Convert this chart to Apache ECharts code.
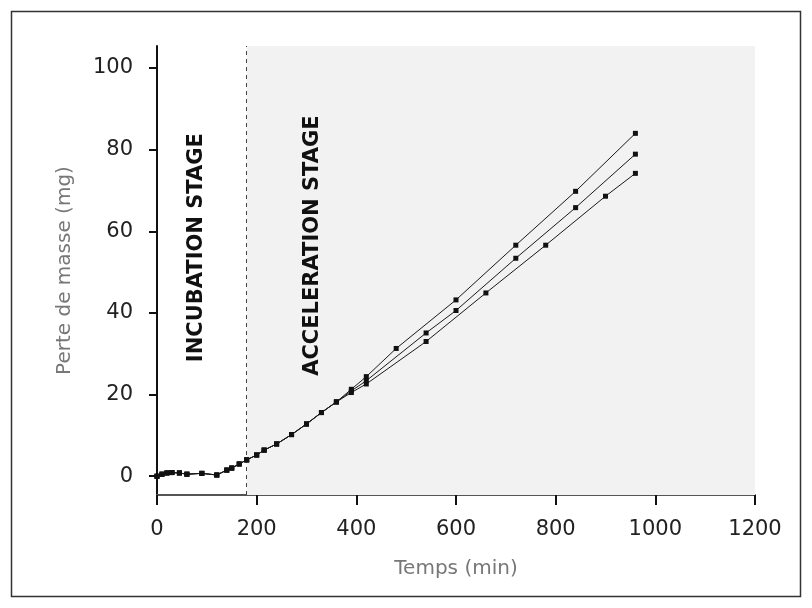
<!DOCTYPE html>
<html><head><meta charset="utf-8">
<script src="https://cdn.jsdelivr.net/npm/echarts@6/dist/echarts.min.js"></script>
<style>html,body{margin:0;padding:0;background:#fff}#c{width:812px;height:608px}</style>
</head><body><div id="c"></div>
<script>
// Shared incubation / early acceleration points (time in min, mass loss in mg)
const earlyTime = [0, 10, 20, 30, 45, 60, 90, 120, 140, 150, 165, 180, 200, 215, 240, 270, 300, 330, 360];
const earlyLoss = [0, 0.5, 0.8, 0.9, 0.8, 0.5, 0.7, 0.3, 1.5, 2.0, 3.0, 4.0, 5.2, 6.4, 7.9, 10.2, 12.8, 15.6, 18.2];
// Three test series after divergence
const timeA = [390, 420, 480, 600, 720, 840, 960];
const lossA = [21.3, 24.4, 31.3, 43.2, 56.6, 69.8, 84.0];
const timeB = [390, 420, 540, 600, 720, 840, 960];
const lossB = [20.9, 23.4, 35.1, 40.6, 53.4, 65.8, 78.9];
const timeC = [390, 420, 540, 660, 780, 900, 960];
const lossC = [20.5, 22.6, 33.0, 44.9, 56.6, 68.6, 74.2];
const yTicks = [0, 20, 40, 60, 80, 100];
const stageBoundary = 180;
const stageLabels = ['INCUBATION STAGE', 'ACCELERATION STAGE'];
const stageLabelPos = [[80, 56], [312, 56.5]];

function pairs(t, v) { return t.map((x, i) => [x, v[i]]); }
const early = pairs(earlyTime, earlyLoss);
const seriesData = [early.concat(pairs(timeA, lossA)), early.concat(pairs(timeB, lossB)), early.concat(pairs(timeC, lossC))];

const FONT = 'DejaVu Sans';
const chart = echarts.init(document.getElementById('c'), null, {renderer: 'canvas'});

const lineSeries = seriesData.map((d, i) => ({
  type: 'line',
  data: d,
  symbol: 'rect',
  symbolSize: 5,
  showSymbol: true,
  lineStyle: {color: '#1a1a1a', width: 1},
  itemStyle: {color: '#111'},
  z: 5,
  animation: false
}));
lineSeries[0].markArea = {
  silent: true,
  itemStyle: {color: '#f2f2f2'},
  data: [[{xAxis: stageBoundary, yAxis: -4.6}, {xAxis: 1200, yAxis: 105.4}]]
};
lineSeries[0].markLine = {
  silent: true, symbol: 'none',
  label: {show: false},
  lineStyle: {color: '#444', type: [4, 4], width: 1},
  data: [[{coord: [stageBoundary, -4.6]}, {coord: [stageBoundary, 105.4]}]]
};

chart.setOption({
  animation: false,
  backgroundColor: '#fff',
  grid: {left: 157, right: 57, top: 46, bottom: 113},
  xAxis: {
    type: 'value', min: 0, max: 1200, interval: 200,
    name: 'Temps (min)', nameLocation: 'middle', nameGap: 64,
    nameTextStyle: {fontFamily: FONT, fontSize: 20, color: '#777'},
    axisLine: {show: true, onZero: false, lineStyle: {color: '#555', width: 2}},
    axisTick: {show: true, length: 10, lineStyle: {color: '#111', width: 2}},
    axisLabel: {fontFamily: FONT, fontSize: 21, color: '#222', margin: 24, formatter: v => String(v)},
    splitLine: {show: false}
  },
  yAxis: {
    type: 'value', min: -4.6, max: 105.4,
    name: 'Perte de masse (mg)', nameLocation: 'middle', nameGap: 82, nameRotate: 90,
    nameTextStyle: {fontFamily: FONT, fontSize: 20, color: '#777'},
    axisLine: {show: true, onZero: false, lineStyle: {color: '#111', width: 2}},
    axisTick: {show: true, length: 8, customValues: yTicks, lineStyle: {color: '#111', width: 2}},
    axisLabel: {fontFamily: FONT, fontSize: 21, color: '#222', margin: 24, customValues: yTicks, formatter: v => String(v)},
    splitLine: {show: false}
  },
  series: lineSeries
});

const g = stageLabels.map((txt, i) => {
  const p = chart.convertToPixel({gridIndex: 0}, stageLabelPos[i]);
  return {
    type: 'text', x: p[0], y: p[1], rotation: Math.PI / 2, z: 10,
    style: {text: txt, font: 'bold 21px "DejaVu Sans"', fill: '#111', align: 'center', verticalAlign: 'middle'}
  };
});
g.push({type: 'rect', shape: {x: 11.5, y: 11.5, width: 789, height: 585}, style: {fill: 'none', stroke: '#333', lineWidth: 1.5}, z: 20});
chart.setOption({graphic: g});
</script></body></html>
